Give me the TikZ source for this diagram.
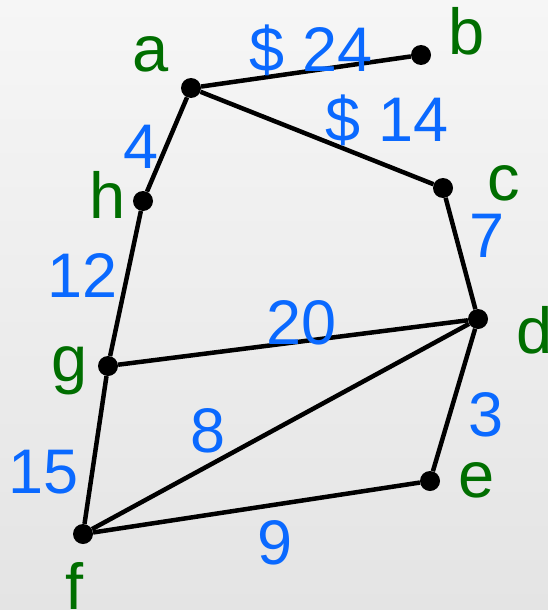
\documentclass[tikz,border=0pt]{standalone}
\usepackage{fontspec}
\setmainfont{Liberation Sans}
\definecolor{lblblue}{RGB}{10,105,255}
\definecolor{lblgreen}{RGB}{0,110,0}
\definecolor{bgtop}{RGB}{246,246,246}
\definecolor{bgbot}{RGB}{228,228,228}
\tikzset{
  vert/.style={circle,fill=black,inner sep=0pt,minimum size=20pt},
  edge/.style={line width=4.5pt},
  vname/.style={text=lblgreen,inner sep=0pt,anchor=base,font=\fontsize{65}{70}\selectfont},
  wt/.style={text=lblblue,inner sep=0pt,anchor=base,font=\fontsize{63}{70}\selectfont},
}
\begin{document}
\begin{tikzpicture}[x=1pt,y=-1pt]
\shade[top color=bgtop,bottom color=bgbot] (0,0) rectangle (548,610);
\useasboundingbox (0,0) rectangle (548,610);
\node[vert] (a) at (191,88) {};
\node[vert] (b) at (421,55) {};
\node[vert] (c) at (443,188) {};
\node[vert] (h) at (143,201) {};
\node[vert] (d) at (478,319) {};
\node[vert] (g) at (108,366) {};
\node[vert] (e) at (430,481) {};
\node[vert] (f) at (83,534) {};
\draw[edge] (a) -- (b);
\draw[edge] (a) -- (c);
\draw[edge] (a) -- (h);
\draw[edge] (c) -- (d);
\draw[edge] (h) -- (g);
\draw[edge] (g) -- (d);
\draw[edge] (g) -- (f);
\draw[edge] (f) -- (d);
\draw[edge] (d) -- (e);
\draw[edge] (f) -- (e);
\node[vname] (la) at (151,71) {a};
\node[vname] (lb) at (467,55) {b};
\node[vname] (lc) at (504,200) {c};
\node[vname] (lh) at (108,218) {h};
\node[vname] (ld) at (535,353) {d};
\node[vname] (lg) at (70,381) {g};
\node[vname] (le) at (477,497) {e};
\node[vname] (lf) at (75,609) {f};
\node[wt] (wab) at (311,71) {\$ 24};
\node[wt] (wac) at (387,141) {\$ 14};
\node[wt] (wah) at (141,168) {4};
\node[wt] (wcd) at (487,257) {7};
\node[wt] (whg) at (83,297) {12};
\node[wt] (wgd) at (302,344) {20};
\node[wt] (wfd) at (208,452) {8};
\node[wt] (wde) at (486,436) {3};
\node[wt] (wgf) at (44,493) {15};
\node[wt] (wfe) at (275,564) {9};
\end{tikzpicture}
\end{document}
